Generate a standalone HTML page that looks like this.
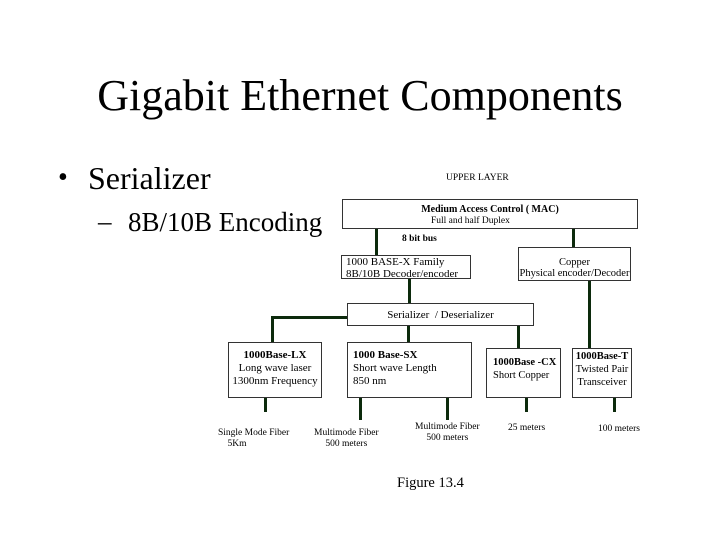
<!DOCTYPE html>
<html><head><style>
body{margin:0;width:720px;height:540px;background:#fff;position:relative;font-family:"Liberation Serif",serif;overflow:hidden}
.a{position:absolute;white-space:nowrap}
.b{position:absolute;border:1px solid #333;box-sizing:border-box;background:#fff;font-size:10.5px;line-height:12px}
.l{position:absolute;background:#0c2a0c}
.s{font-size:9.5px}
</style></head><body>
<div class="a" style="left:0;width:720px;text-align:center;top:70px;font-size:44px">Gigabit Ethernet Components</div>
<div class="a" style="left:58px;top:162px;font-size:28px">•</div>
<div class="a" style="left:88px;top:160px;font-size:32px">Serializer</div>
<div class="a" style="left:98px;top:206px;font-size:27px">–</div>
<div class="a" style="left:128px;top:207px;font-size:27px">8B/10B Encoding</div>

<div class="a s" style="left:446px;top:173px">UPPER LAYER</div>
<div class="b" style="left:342px;top:199px;width:296px;height:30px"><div style="text-align:center;font-weight:bold;font-size:10px;margin-top:4px">Medium Access Control ( MAC)</div><div class="s" style="margin-left:88px;line-height:11px">Full and half Duplex</div></div>
<div class="l" style="left:375px;top:229px;width:3px;height:26px"></div>
<div class="l" style="left:572px;top:229px;width:3px;height:18px"></div>
<div class="a s" style="left:402px;top:234px;font-weight:bold">8 bit bus</div>
<div class="b" style="left:341px;top:255px;width:130px;height:24px;padding-left:4px;font-size:11px">1000 BASE-X Family<br>8B/10B Decoder/encoder</div>
<div class="b" style="left:518px;top:247px;width:113px;height:34px;text-align:center;padding-top:9px;line-height:11px">Copper<br>Physical encoder/Decoder</div>
<div class="l" style="left:408px;top:279px;width:3px;height:24px"></div>
<div class="l" style="left:588px;top:281px;width:3px;height:68px"></div>
<div class="b" style="left:347px;top:303px;width:187px;height:23px;text-align:center;padding-top:5px;font-size:11px">Serializer &nbsp;/ Deserializer</div>
<div class="l" style="left:272px;top:316px;width:75px;height:3px"></div>
<div class="l" style="left:271px;top:316px;width:3px;height:26px"></div>
<div class="l" style="left:407px;top:326px;width:3px;height:16px"></div>
<div class="l" style="left:517px;top:326px;width:3px;height:22px"></div>

<div class="b" style="left:228px;top:342px;width:94px;height:56px;text-align:center;padding-top:6px;line-height:13px;font-size:11px"><b>1000Base-LX</b><br>Long wave laser<br>1300nm Frequency</div>
<div class="b" style="left:347px;top:342px;width:125px;height:56px;padding:6px 0 0 5px;line-height:13px;font-size:11px"><b>1000 Base-SX</b><br>Short wave Length<br>850 nm</div>
<div class="b" style="left:486px;top:348px;width:75px;height:50px;padding:7px 0 0 6px;line-height:13px"><b>1000Base -CX</b><br>Short Copper</div>
<div class="b" style="left:572px;top:348px;width:60px;height:50px;text-align:center;padding-top:1px;line-height:13px"><b>1000Base-T</b><br>Twisted Pair<br>Transceiver</div>

<div class="l" style="left:264px;top:398px;width:3px;height:14px"></div>
<div class="l" style="left:359px;top:398px;width:3px;height:22px"></div>
<div class="l" style="left:446px;top:398px;width:3px;height:22px"></div>
<div class="l" style="left:525px;top:398px;width:3px;height:14px"></div>
<div class="l" style="left:613px;top:398px;width:3px;height:14px"></div>

<div class="a s" style="left:218px;top:428px;line-height:11px">Single Mode Fiber<br>&nbsp;&nbsp;&nbsp;&nbsp;5Km</div>
<div class="a s" style="left:314px;top:428px;line-height:11px;text-align:center">Multimode Fiber<br>500 meters</div>
<div class="a s" style="left:415px;top:422px;line-height:11px;text-align:center">Multimode Fiber<br>500 meters</div>
<div class="a s" style="left:508px;top:423px">25 meters</div>
<div class="a s" style="left:598px;top:424px">100 meters</div>
<div class="a" style="left:397px;top:475px;font-size:14.5px">Figure 13.4</div>
</body></html>
